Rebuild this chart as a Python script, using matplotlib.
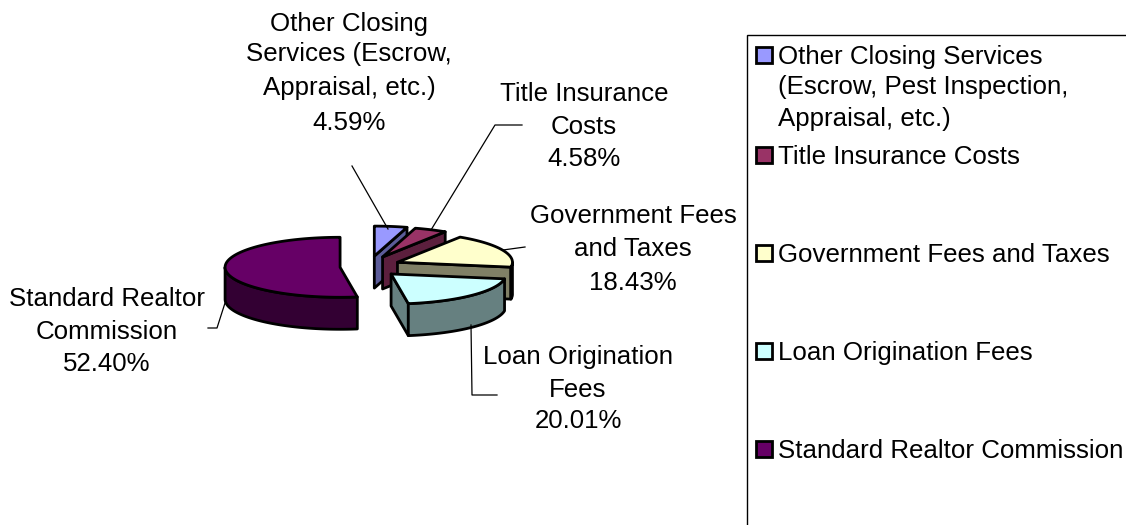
#!/usr/bin/env python3
"""Exploded 3D style pie of home closing costs, with callouts and a boxed legend."""
import numpy as np
import matplotlib
matplotlib.use('Agg')
import matplotlib.pyplot as plt
from matplotlib.patches import Polygon, Rectangle

plt.rcParams['font.family'] = ['Liberation Sans', 'DejaVu Sans']

categories = ['Other Closing Services (Escrow, Pest Inspection, Appraisal, etc.)',
              'Title Insurance Costs', 'Government Fees and Taxes',
              'Loan Origination Fees', 'Standard Realtor Commission']
shares = [4.59, 4.58, 18.43, 20.01, 52.40]
top_colors = ['#9999FF', '#993366', '#FFFFCC', '#CCFFFF', '#660066']
side_colors = ['#5C5C99', '#5C1F3D', '#808066', '#668080', '#330033']

callouts = [['Other Closing', 'Services (Escrow,', 'Appraisal, etc.)', '4.59%'],
            ['Title Insurance', 'Costs', '4.58%'],
            ['Government Fees', 'and Taxes', '18.43%'],
            ['Loan Origination', 'Fees', '20.01%'],
            ['Standard Realtor', 'Commission', '52.40%']]
callout_x = [349, 584, 633, 578, 107]
callout_y = [[22, 52, 86, 121], [92, 125, 157], [214, 247, 281], [355, 388, 419], [297, 330, 362]]
leaders = [[(352, 166), (388, 229)],
           [(522, 125), (495, 125), (431, 230)],
           [(525, 247), (503, 250)],
           [(497, 395), (472, 395), (471, 325)],
           [(208, 328), (217, 328), (225, 303)]]

legend_lines = [['Other Closing Services', '(Escrow, Pest Inspection,', 'Appraisal, etc.)'],
                ['Title Insurance Costs'], ['Government Fees and Taxes'],
                ['Loan Origination Fees'], ['Standard Realtor Commission']]
legend_y = [[55, 85, 117], [155], [253], [351], [449]]

# pie geometry in pixels
CX, CY = 370, 266.5
RX, RY = 115, 30
EX, EY = 30, 10.5
DEPTH = 32
LW = 2.0
FS = 18.6
TEXT_DY = 2  # va='center' sits a little high for this font


def pt(cx, cy, deg):
    t = np.radians(deg)
    return cx + RX * np.sin(t), cy - RY * np.cos(t)


def arc(cx, cy, a, b):
    ang = np.linspace(a, b, max(int(abs(b - a)) * 2, 2))
    t = np.radians(ang)
    return np.column_stack([cx + RX * np.sin(t), cy - RY * np.cos(t)])


fig = plt.figure(figsize=(11.26, 5.25), dpi=100)
ax = fig.add_axes([0, 0, 1, 1])
ax.set_xlim(0, 1126)
ax.set_ylim(525, 0)
ax.axis('off')

# slices clockwise from 12 o'clock, painted back to front except the big one first
edges = np.concatenate([[0], np.cumsum(shares) / sum(shares) * 360])
slices = [(i, edges[i], edges[i + 1]) for i in range(len(shares))]
for i, a, b in [slices[4]] + slices[:4]:
    mid = np.radians((a + b) / 2)
    cx = CX + EX * np.sin(mid)
    cy = CY - EY * np.cos(mid)
    kw = dict(ec='black', lw=LW, joinstyle='round')

    # cut face at the clockwise end, only when it faces the viewer
    if np.sin(np.radians(b)) > 1e-6:
        x, y = pt(cx, cy, b)
        ax.add_patch(Polygon([(cx, cy), (x, y), (x, y + DEPTH), (cx, cy + DEPTH)],
                             fc=side_colors[i], **kw))
    # outer rim on the front half
    lo, hi = max(a, 90), min(b, 270)
    if hi > lo:
        rim = arc(cx, cy, lo, hi)
        low = rim[::-1] + [0, DEPTH]
        ax.add_patch(Polygon(np.vstack([rim, low]), fc=side_colors[i], **kw))
    # top face
    ax.add_patch(Polygon(np.vstack([[(cx, cy)], arc(cx, cy, a, b)]), fc=top_colors[i], **kw))

for pts in leaders:
    xs, ys = zip(*pts)
    ax.plot(xs, ys, color='black', lw=0.9)

for lines, x, ys in zip(callouts, callout_x, callout_y):
    for s, y in zip(lines, ys):
        ax.text(x, y + TEXT_DY, s, ha='center', va='center', fontsize=FS, color='black')

# legend box runs off the right and bottom of the picture
ax.add_patch(Rectangle((747, 35), 500, 600, fc='white', ec='black', lw=1.0))
for i, (lines, ys) in enumerate(zip(legend_lines, legend_y)):
    ax.add_patch(Rectangle((756, ys[0] - 8), 16, 16, fc=top_colors[i], ec='black', lw=LW))
    for s, y in zip(lines, ys):
        ax.text(778, y + TEXT_DY, s, ha='left', va='center', fontsize=FS, color='black')

fig.savefig('out.png', dpi=100)
